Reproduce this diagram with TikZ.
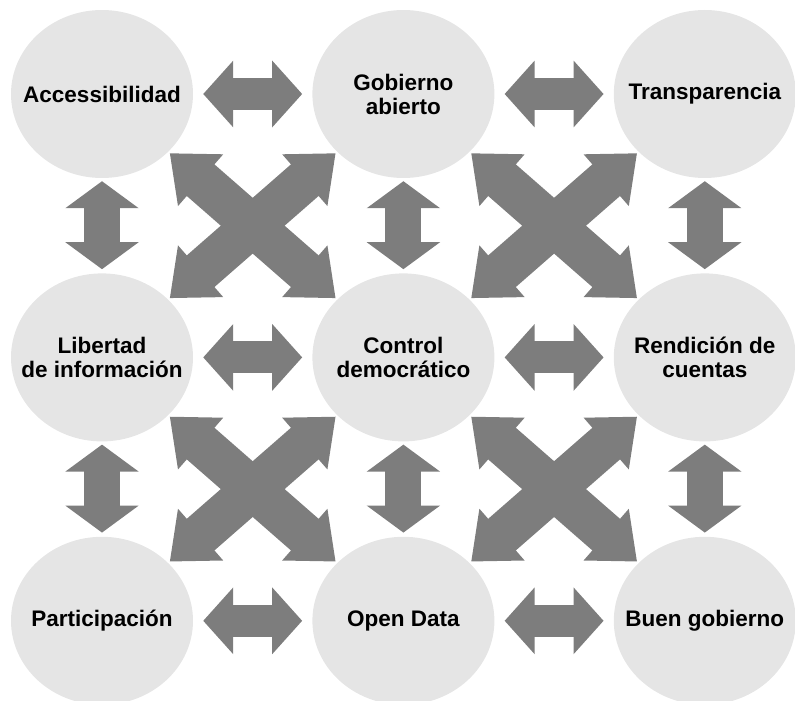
\documentclass[tikz,border=0pt]{standalone}
\usepackage{fontspec}
\setmainfont{Liberation Sans}
\usepackage{tikz}
\usetikzlibrary{positioning,shapes.geometric,arrows.meta}
\definecolor{bubblegray}{RGB}{229,229,229}
\definecolor{arrowgray}{RGB}{125,125,125}
\tikzset{bubble/.style={ellipse,fill=bubblegray,minimum width=182pt,minimum height=168pt,inner sep=0pt},
         lbl/.style={font=\fontsize{22.5}{24}\selectfont\bfseries,align=center,text=black},
         hline/.style={draw=arrowgray,line width=32pt,{Triangle[width=65pt,length=30pt]}-{Triangle[width=65pt,length=30pt]},shorten <=10pt,shorten >=10pt},
         vline/.style={draw=arrowgray,line width=36pt,{Triangle[width=72pt,length=27pt]}-{Triangle[width=72pt,length=27pt]},shorten <=3pt,shorten >=4pt},
         xline/.style={draw=arrowgray,line width=42pt,{Triangle[width=66pt,length=41pt]}-{Triangle[width=66pt,length=41pt]},shorten <=2pt,shorten >=2pt}
}

\begin{document}
\begin{tikzpicture}[x=1pt,y=1pt]
  \useasboundingbox (-102,94) rectangle (693,-607);
  \node[bubble,label={[lbl]center:Accessibilidad}] (a) {};
  \node[bubble,right=119pt of a,label={[lbl]center:{Gobierno\\abierto}}] (b) {};
  \node[bubble,right=119pt of b,label={[lbl]center:Transparencia}] (c) {};
  \node[bubble,below=95pt of a,label={[lbl]center:{Libertad\\de información}}] (d) {};
  \node[bubble,right=119pt of d,label={[lbl]center:{Control\\democrático}}] (e) {};
  \node[bubble,right=119pt of e,label={[lbl]center:{Rendición de\\cuentas}}] (f) {};
  \node[bubble,below=95pt of d,label={[lbl]center:Participación}] (g) {};
  \node[bubble,right=119pt of g,label={[lbl]center:Open Data}] (h) {};
  \node[bubble,right=119pt of h,label={[lbl]center:Buen gobierno}] (i) {};
  % rows
  \draw[hline] (a) -- (b);
  \draw[hline] (b) -- (c);
  \draw[hline] (d) -- (e);
  \draw[hline] (e) -- (f);
  \draw[hline] (g) -- (h);
  \draw[hline] (h) -- (i);
  % columns
  \draw[vline] (a) -- (d);
  \draw[vline] (d) -- (g);
  \draw[vline] (b) -- (e);
  \draw[vline] (e) -- (h);
  \draw[vline] (c) -- (f);
  \draw[vline] (f) -- (i);
  % crossings
  \draw[xline] (a) -- (e);
  \draw[xline] (b) -- (d);
  \draw[xline] (b) -- (f);
  \draw[xline] (c) -- (e);
  \draw[xline] (d) -- (h);
  \draw[xline] (e) -- (g);
  \draw[xline] (e) -- (i);
  \draw[xline] (f) -- (h);
\end{tikzpicture}
\end{document}
